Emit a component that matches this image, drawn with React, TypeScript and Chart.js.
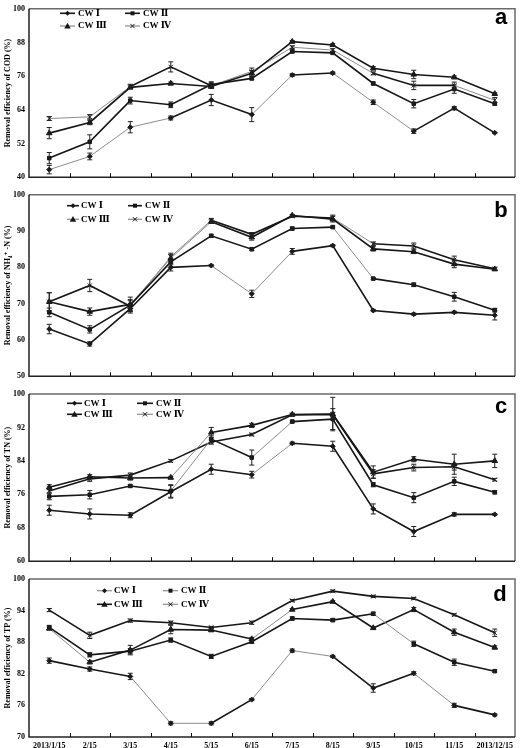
import React, { useEffect, useRef } from "react";
import { Chart, registerables } from "chart.js";
Chart.register(...registerables);

const categories = ["2013/1/15", "2/15", "3/15", "4/15", "5/15", "6/15", "7/15", "8/15", "9/15", "10/15", "11/15", "2013/12/15"];
const seriesNames = ["CW Ⅰ", "CW Ⅱ", "CW Ⅲ", "CW Ⅳ"];

// COD (panel a)
const codCW1 = [42.7, 47.4, 57.8, 61.1, 67.5, 62.3, 76.4, 77.1, 66.7, 56.4, 64.6, 55.8];
const codCW2 = [46.8, 52.6, 67.3, 65.8, 73.0, 75.2, 84.8, 84.3, 73.4, 66.2, 71.4, 66.2];
const codCW3 = [55.7, 59.5, 72.0, 73.4, 72.3, 77.0, 88.3, 87.1, 78.8, 76.6, 75.6, 69.7];
const codCW4 = [60.9, 61.5, 72.3, 79.3, 72.6, 77.7, 86.3, 85.3, 77.0, 72.7, 72.7, 67.4];
const codErr1 = [1.5, 1.2, 2.0, 0.7, 2.0, 2.5, 0.5, 0.4, 0.8, 0.8, 0.6, 0.2];
const codErr2 = [2.0, 2.5, 1.2, 1.0, 1.0, 0.5, 0.5, 0.5, 0.5, 1.5, 1.5, 0.5];
const codErr3 = [2.0, 0.8, 0.5, 0.5, 0.5, 1.0, 0.4, 0.5, 0.6, 1.5, 0.5, 0.4];
const codErr4 = [0.7, 0.8, 0.8, 1.8, 1.0, 1.2, 0.5, 0.5, 0.5, 1.5, 1.2, 1.0];

// NH4+-N (panel b)
const nhCW1 = [63.0, 58.9, 68.6, 80.0, 80.5, 72.7, 84.4, 86.0, 68.1, 67.1, 67.6, 66.8];
const nhCW2 = [67.6, 62.9, 69.6, 81.5, 88.7, 85.0, 90.7, 91.1, 76.9, 75.2, 71.9, 68.2];
const nhCW3 = [70.5, 67.8, 69.8, 82.5, 92.6, 88.3, 94.3, 93.3, 85.1, 84.3, 80.9, 79.5];
const nhCW4 = [70.5, 75.0, 69.3, 82.9, 93.0, 89.1, 94.1, 93.6, 86.5, 85.9, 82.1, 79.6];
const nhErr1 = [1.3, 0.6, 1.2, 1.0, 0.3, 1.0, 0.8, 0.3, 0.3, 0.3, 0.3, 1.3];
const nhErr2 = [1.2, 1.0, 1.5, 0.8, 0.4, 0.4, 0.4, 0.3, 0.3, 0.5, 1.2, 0.5];
const nhErr3 = [2.5, 1.0, 2.0, 1.0, 0.5, 0.8, 0.3, 0.8, 0.6, 0.5, 1.0, 0.4];
const nhErr4 = [2.5, 1.7, 1.5, 1.0, 0.5, 0.5, 0.3, 0.8, 0.5, 0.8, 1.0, 0.4];

// TN (panel c)
const tnCW1 = [72.2, 71.3, 71.0, 76.6, 82.0, 80.7, 88.2, 87.5, 72.5, 67.1, 71.2, 71.2];
const tnCW2 = [75.5, 75.9, 78.0, 76.8, 89.2, 84.8, 93.4, 94.0, 78.3, 75.2, 79.1, 76.5];
const tnCW3 = [77.7, 80.2, 79.9, 80.0, 90.8, 92.5, 95.1, 95.2, 81.3, 84.4, 83.2, 84.0];
const tnCW4 = [76.8, 79.7, 80.6, 84.0, 88.5, 90.3, 95.0, 95.1, 80.9, 82.4, 82.6, 79.5];
const tnErr1 = [1.2, 1.2, 0.6, 1.5, 1.2, 0.8, 0.3, 1.2, 1.2, 1.2, 0.4, 0.2];
const tnErr2 = [0.8, 1.0, 0.3, 1.5, 0.8, 1.8, 0.3, 2.5, 0.5, 1.2, 1.0, 0.4];
const tnErr3 = [0.6, 0.5, 0.5, 0.3, 1.2, 0.5, 0.3, 4.0, 1.5, 0.6, 2.4, 1.6];
const tnErr4 = [0.5, 0.6, 0.5, 0.3, 0.5, 0.3, 0.3, 0.5, 1.0, 0.8, 0.8, 0.3];

// TP (panel d)
const tpCW1 = [84.5, 82.9, 81.5, 72.6, 72.6, 77.1, 86.4, 85.3, 79.3, 82.1, 76.0, 74.2];
const tpCW2 = [90.8, 85.6, 86.3, 88.4, 85.3, 88.1, 92.5, 92.2, 93.4, 87.7, 84.2, 82.5];
const tpCW3 = [90.6, 84.2, 86.5, 90.4, 90.3, 88.6, 94.2, 95.7, 90.7, 94.2, 89.9, 87.0];
const tpCW4 = [94.1, 89.3, 92.1, 91.7, 90.8, 91.7, 95.9, 97.7, 96.7, 96.3, 93.2, 89.8];
const tpErr1 = [0.5, 0.4, 0.6, 0.3, 0.3, 0.2, 0.3, 0.2, 0.8, 0.3, 0.4, 0.2];
const tpErr2 = [0.4, 0.4, 0.5, 0.4, 0.4, 0.3, 0.3, 0.3, 0.3, 0.5, 0.6, 0.2];
const tpErr3 = [0.3, 0.3, 0.9, 0.8, 0.3, 0.3, 0.2, 0.2, 0.2, 0.4, 0.6, 0.3];
const tpErr4 = [0.3, 0.6, 0.3, 0.3, 0.2, 0.3, 0.2, 0.2, 0.2, 0.2, 0.2, 0.7];

const BLACK = "#161616";
const GRAY = "#8c8c8c";
const SERIF = "'Liberation Serif', 'Times New Roman', 'DejaVu Serif', serif";
const pointStyles = ["rectRot", "rect", "triangle", "crossRot"];
const pointRadii = [2.5, 2.5, 3.2, 3];

type Panel = {
  letter: string;
  title: string;
  min: number;
  max: number;
  step: number;
  series: number[][];
  errors: number[][];
  segs: string[];
  legendColors: string;
  top: number;
  height: number;
  chartTop: number;
  chartBottom: number;
  showX: boolean;
  legend: { c1: [number, number, number]; c2: [number, number, number]; r1: number; r2: number };
  letterPos: [number, number];
};

const panels: Panel[] = [
  {
    letter: "a",
    title: "Removal efficiency of COD (%)",
    min: 40, max: 100, step: 12,
    series: [codCW1, codCW2, codCW3, codCW4],
    errors: [codErr1, codErr2, codErr3, codErr4],
    segs: ["gggkkgkggkk", "kkkkkkkkkkk", "kkkkkkkkkkk", "ggkkggggkkg"],
    legendColors: "kkgg",
    top: 0, height: 186, chartTop: 3, chartBottom: 180, showX: false,
    legend: { c1: [60, 75, 78], c2: [125, 140, 143], r1: 13.3, r2: 26 },
    letterPos: [501, 18],
  },
  {
    letter: "b",
    title: "Removal efficiency of NH\u2084\u207A -N (%)",
    min: 50, max: 100, step: 10,
    series: [nhCW1, nhCW2, nhCW3, nhCW4],
    errors: [nhErr1, nhErr2, nhErr3, nhErr4],
    segs: ["kkkkggkkkkk", "kkkkkkkgkkk", "kkggkkkkkkk", "kkggkkkgkkk"],
    legendColors: "kkgg",
    top: 186, height: 199, chartTop: 193.5, chartBottom: 378, showX: false,
    legend: { c1: [67, 79, 81], c2: [128, 142, 145], r1: 205.7, r2: 219.3 },
    letterPos: [501, 211],
  },
  {
    letter: "c",
    title: "Removal efficiency of TN (%)",
    min: 60, max: 100, step: 8,
    series: [tnCW1, tnCW2, tnCW3, tnCW4],
    errors: [tnErr1, tnErr2, tnErr3, tnErr4],
    segs: ["kkkkkgkkkkk", "kkkgkgkkkkk", "kkkgkkkkkkk", "kkkkkkkkkkk"],
    legendColors: "kkkg",
    top: 385, height: 185, chartTop: 394, chartBottom: 564, showX: false,
    legend: { c1: [67, 82, 84], c2: [137, 153, 156], r1: 403.3, r2: 414.3 },
    letterPos: [501, 407],
  },
  {
    letter: "d",
    title: "Removal efficiency of TP (%)",
    min: 70, max: 100, step: 6,
    series: [tpCW1, tpCW2, tpCW3, tpCW4],
    errors: [tpErr1, tpErr2, tpErr3, tpErr4],
    segs: ["kkggkggkkgk", "kkkkkkkkgkk", "gkkkkgkkkkk", "kkkkkkkkkkk"],
    legendColors: "ggkg",
    top: 570, height: 178, chartTop: 579, chartBottom: 737, showX: true,
    legend: { c1: [97, 112, 114], c2: [163, 178, 181], r1: 590.7, r2: 604.3 },
    letterPos: [500, 595],
  },
];

function drawMarker(ctx: CanvasRenderingContext2D, style: string, x: number, y: number, r: number) {
  ctx.save();
  ctx.fillStyle = BLACK;
  ctx.strokeStyle = BLACK;
  ctx.lineWidth = 1;
  ctx.beginPath();
  if (style === "rectRot") {
    ctx.moveTo(x, y - r); ctx.lineTo(x + r, y); ctx.lineTo(x, y + r); ctx.lineTo(x - r, y); ctx.closePath(); ctx.fill();
  } else if (style === "rect") {
    ctx.rect(x - r * 0.8, y - r * 0.8, 1.6 * r, 1.6 * r); ctx.fill();
  } else if (style === "triangle") {
    ctx.moveTo(x, y - r); ctx.lineTo(x + r, y + r * 0.8); ctx.lineTo(x - r, y + r * 0.8); ctx.closePath(); ctx.fill();
  } else {
    ctx.moveTo(x - r * 0.7, y - r * 0.7); ctx.lineTo(x + r * 0.7, y + r * 0.7);
    ctx.moveTo(x + r * 0.7, y - r * 0.7); ctx.lineTo(x - r * 0.7, y + r * 0.7); ctx.stroke();
  }
  ctx.restore();
}

function PanelChart({ p }: { p: Panel }) {
  const ref = useRef<HTMLCanvasElement | null>(null);
  useEffect(() => {
    if (!ref.current) return;
    const xHeight = p.showX ? 11 : 0;
    const padTop = p.chartTop - p.top;
    const padBottom = p.top + p.height - p.chartBottom - xHeight;

    const decorPlugin = {
      id: "decor" + p.letter,
      afterDatasetsDraw(chart: any) {
        const ctx: CanvasRenderingContext2D = chart.ctx;
        const ys = chart.scales.y;
        chart.data.datasets.forEach((ds: any, i: number) => {
          const meta = chart.getDatasetMeta(i);
          meta.data.forEach((pt: any, j: number) => {
            const v = ds.data[j];
            const e = ds.errors[j];
            const t = ys.getPixelForValue(v + e);
            const b = ys.getPixelForValue(v - e);
            ctx.save();
            ctx.strokeStyle = "#222";
            ctx.lineWidth = 1;
            ctx.beginPath();
            ctx.moveTo(pt.x, t); ctx.lineTo(pt.x, b);
            ctx.moveTo(pt.x - 2.5, t); ctx.lineTo(pt.x + 2.5, t);
            ctx.moveTo(pt.x - 2.5, b); ctx.lineTo(pt.x + 2.5, b);
            ctx.stroke();
            ctx.restore();
          });
        });
      },
      afterDraw(chart: any) {
        const ctx: CanvasRenderingContext2D = chart.ctx;
        const a = chart.chartArea;
        const xs = chart.scales.x;
        const off = p.top;
        ctx.save();
        // frame: darker left/bottom, lighter top/right
        ctx.lineWidth = 1.5;
        ctx.strokeStyle = "#6a6a6a";
        ctx.beginPath();
        ctx.moveTo(a.left, a.top); ctx.lineTo(a.right, a.top); ctx.lineTo(a.right, a.bottom);
        ctx.stroke();
        ctx.strokeStyle = "#222";
        ctx.beginPath();
        ctx.moveTo(a.left, a.top); ctx.lineTo(a.left, a.bottom); ctx.lineTo(a.right, a.bottom);
        ctx.stroke();
        // inward ticks between categories
        ctx.strokeStyle = "#111";
        ctx.lineWidth = 1;
        ctx.beginPath();
        for (let k = 1; k < categories.length; k++) {
          const x = Math.round((xs.getPixelForValue(k - 1) + xs.getPixelForValue(k)) / 2) + 0.5;
          ctx.moveTo(x, a.bottom);
          ctx.lineTo(x, a.bottom - 4);
        }
        ctx.stroke();
        // legend
        ctx.font = "bold 9px " + SERIF;
        ctx.textBaseline = "middle";
        ctx.textAlign = "left";
        seriesNames.forEach((name, i) => {
          const col = i % 2 === 0 ? p.legend.c1 : p.legend.c2;
          const ry = (i < 2 ? p.legend.r1 : p.legend.r2) - off;
          const gray = p.legendColors[i] === "g";
          ctx.strokeStyle = gray ? GRAY : BLACK;
          ctx.lineWidth = gray ? 1.2 : 1.6;
          ctx.beginPath();
          ctx.moveTo(col[0], ry);
          ctx.lineTo(col[1], ry);
          ctx.stroke();
          drawMarker(ctx, pointStyles[i], (col[0] + col[1]) / 2, ry, pointRadii[i]);
          ctx.fillStyle = "#000";
          ctx.fillText(name, col[2], ry);
        });
        // panel letter
        ctx.font = "bold 22px 'Liberation Sans', Arial, sans-serif";
        ctx.textAlign = "center";
        ctx.fillStyle = "#000";
        ctx.fillText(p.letter, p.letterPos[0], p.letterPos[1] - off);
        ctx.restore();
      },
    };

    const datasets = p.series.map((vals, i) => ({
      label: seriesNames[i],
      data: vals,
      errors: p.errors[i],
      borderColor: BLACK,
      borderWidth: 1.6,
      pointStyle: pointStyles[i],
      pointRadius: pointRadii[i],
      pointBackgroundColor: BLACK,
      pointBorderColor: BLACK,
      pointBorderWidth: 1,
      fill: false,
      tension: 0,
      segment: {
        borderColor: (c: any) => (p.segs[i][c.p0DataIndex] === "g" ? GRAY : BLACK),
        borderWidth: (c: any) => (p.segs[i][c.p0DataIndex] === "g" ? 1 : 1.6),
      },
    }));

    const chart = new Chart(ref.current, {
      type: "line",
      data: { labels: categories, datasets: datasets as any },
      plugins: [decorPlugin as any],
      options: {
        responsive: false,
        animation: false,
        devicePixelRatio: 1,
        layout: { padding: { top: padTop, bottom: padBottom, left: 0, right: 3 } },
        plugins: { legend: { display: false }, tooltip: { enabled: false } },
        scales: {
          x: {
            type: "category",
            offset: true,
            grid: { display: false, drawTicks: false },
            border: { display: false },
            ticks: {
              display: p.showX,
              autoSkip: false,
              maxRotation: 0,
              minRotation: 0,
              padding: 4,
              color: "#000",
              font: { family: SERIF, size: 8, weight: "bold" },
            },
            afterFit: (s: any) => { s.height = xHeight; },
          },
          y: {
            min: p.min,
            max: p.max,
            grid: { display: false, drawTicks: false },
            border: { display: false },
            ticks: {
              stepSize: p.step,
              padding: 4,
              color: "#000",
              font: { family: SERIF, size: 8, weight: "bold" },
            },
            title: {
              display: true,
              text: p.title,
              color: "#000",
              font: { family: SERIF, size: 8, weight: "bold" },
              padding: { top: 3, bottom: 0 },
            },
            afterFit: (s: any) => { s.width = 29; },
          },
        },
      } as any,
    });
    return () => chart.destroy();
  }, [p]);
  return (
    <canvas
      ref={ref}
      width={520}
      height={p.height}
      style={{ position: "absolute", left: 0, top: p.top, width: 520, height: p.height }}
    />
  );
}

export default function App() {
  return (
    <div style={{ position: "absolute", left: 0, top: 0, width: 520, height: 748, background: "#fff", overflow: "hidden" }}>
      {panels.map((p) => (
        <PanelChart key={p.letter} p={p} />
      ))}
    </div>
  );
}
